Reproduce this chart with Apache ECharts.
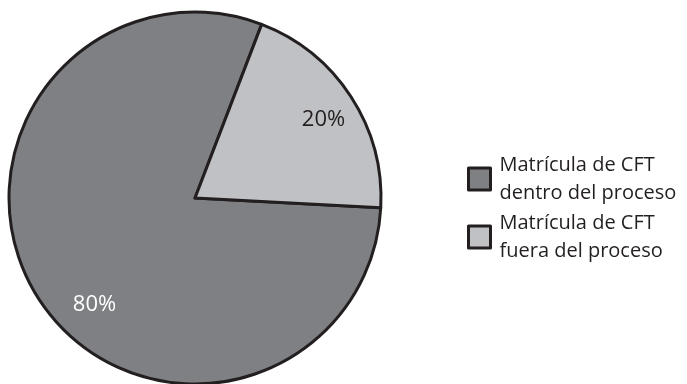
<!DOCTYPE html>
<html><head><meta charset="utf-8">
<script src="https://cdn.jsdelivr.net/npm/echarts@6/dist/echarts.min.js"></script>
<style>html,body{margin:0;padding:0;background:#fff}#c{width:687px;height:384px}</style>
</head><body><div id="c"></div>
<script>
const categories = ['Matrícula de CFT\ndentro del proceso', 'Matrícula de CFT\nfuera del proceso'];
const values = [80, 20];
const labels = ['80%', '20%'];
const colors = ['#7f8084', '#c0c1c4'];
const labelColors = ['#ffffff', '#231f20'];
const labelOffsets = [[-20, 54], [48, -26]];

const chart = echarts.init(document.getElementById('c'), null, {renderer: 'canvas'});
chart.setOption({
  animation: false,
  backgroundColor: '#ffffff',
  legend: {
    orient: 'vertical',
    left: 462,
    top: 146,
    itemWidth: 22,
    itemHeight: 22,
    itemGap: 2,
    icon: 'rect',
    itemStyle: {borderColor: '#231f20', borderWidth: 3},
    textStyle: {fontFamily: 'Open Sans', fontSize: 20, color: '#231f20', lineHeight: 28, padding: [0,0,0,4]},
    data: categories
  },
  series: [{
    type: 'pie',
    center: [195, 198],
    radius: 186,
    startAngle: -3,
    clockwise: true,
    silent: true,
    itemStyle: {borderColor: '#231f20', borderWidth: 3},
    label: {position: 'inside', fontFamily: 'Open Sans', fontSize: 22},
    labelLine: {show: false},
    data: values.map((v, i) => ({
      name: categories[i],
      value: v,
      itemStyle: {color: colors[i]},
      label: {formatter: labels[i], color: labelColors[i], offset: labelOffsets[i]}
    }))
  }]
});
</script></body></html>
